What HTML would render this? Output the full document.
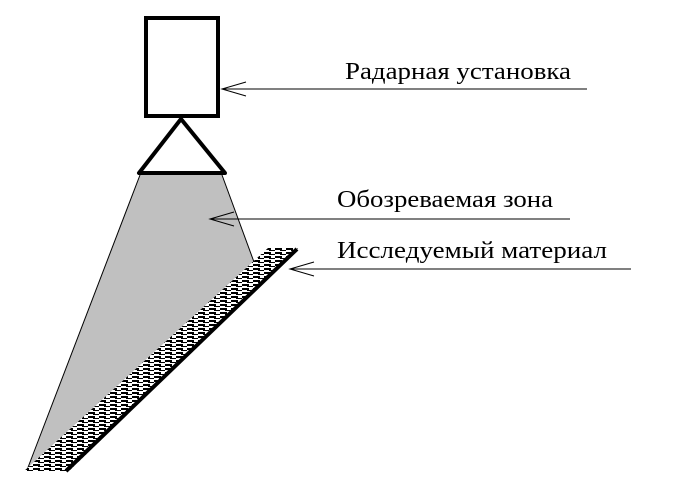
<!DOCTYPE html>
<html><head><meta charset="utf-8"><style>html,body{margin:0;padding:0;background:#fff}svg{display:block}</style></head>
<body>
<svg width="690" height="498" viewBox="0 0 690 498" xmlns="http://www.w3.org/2000/svg">
<defs>
<pattern id="h" width="11" height="4" patternUnits="userSpaceOnUse">
<rect width="11" height="4" fill="#fff"/>
<rect x="0" y="0" width="7" height="2" fill="#000"/>
<rect x="5" y="2" width="6" height="1" fill="#000"/>
</pattern>
</defs>
<polygon points="140,175 222,175 254,262 262,262 36,472 27,470" fill="#c0c0c0"/>
<line x1="140" y1="175" x2="27" y2="470" stroke="#000" stroke-width="1"/>
<line x1="222" y1="175" x2="254" y2="262" stroke="#000" stroke-width="1"/>
<polygon points="268,248 298,248 68,472 23,472" fill="url(#h)"/>
<line x1="297" y1="249" x2="66" y2="471" stroke="#000" stroke-width="4"/>
<rect x="146" y="18" width="72" height="98" fill="#fff" stroke="#000" stroke-width="4"/>
<polygon points="181,119 139,173 225,173" fill="none" stroke="#000" stroke-width="4" stroke-linejoin="round"/>
<g stroke="#000" stroke-width="1" fill="none">
<line x1="222" y1="89" x2="587" y2="89"/><polyline points="246,82 222,89 246,96"/>
<line x1="210" y1="219" x2="570" y2="219"/><polyline points="234,212 210,219 234,226"/>
<line x1="290" y1="269" x2="631" y2="269"/><polyline points="314,262 290,269 314,276"/>
</g>
<g font-family="Liberation Serif, serif" font-size="24" fill="#000">
<text x="345" y="79" textLength="226" lengthAdjust="spacingAndGlyphs">Радарная установка</text>
<text x="337" y="207" textLength="216" lengthAdjust="spacingAndGlyphs">Обозреваемая зона</text>
<text x="337" y="258" textLength="270" lengthAdjust="spacingAndGlyphs">Исследуемый материал</text>
</g>
</svg>
</body></html>
